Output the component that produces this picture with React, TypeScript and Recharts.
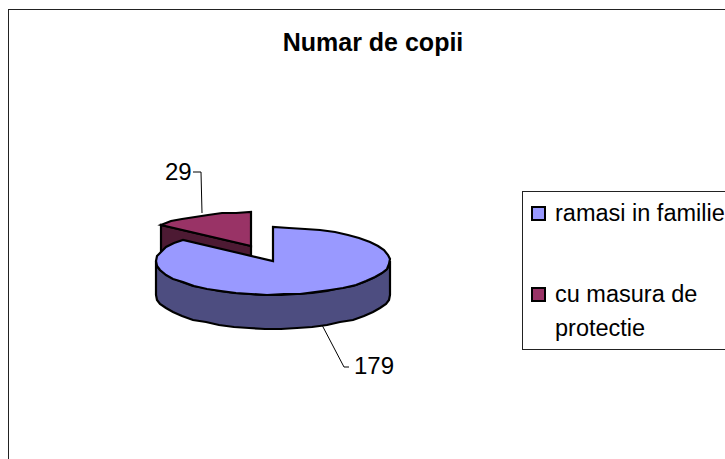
import React from "react";
import { PieChart, Pie, Legend } from "recharts";

const categories = ["cu masura de protectie", "ramasi in familie"];
const values = [29, 179];
const topColors = ["#993366", "#9999FF"];
const sideColors = ["#4D1A33", "#4D4D80"];
const tableData = categories.map((name, i) => ({ name, value: values[i], fill: topColors[i], side: sideColors[i] }));

const SQUASH = 0.287;
const DEPTH = 34;
const FONT = "'Liberation Sans', Arial, sans-serif";
const EXPLODE = [{ dx: -22, dy: -15 }, { dx: 0, dy: 0 }];

function arcPoints(cx: number, cy: number, r: number, a0: number, a1: number) {
  const n = Math.max(2, Math.ceil(Math.abs(a1 - a0) / 8));
  const pts: [number, number][] = [];
  for (let i = 0; i <= n; i++) {
    const a = ((a0 + ((a1 - a0) * i) / n) * Math.PI) / 180;
    pts.push([Math.round(cx + r * Math.cos(a)), Math.round(cy - SQUASH * r * Math.sin(a))]);
  }
  return pts;
}
const toPath = (pts: [number, number][]) => "M" + pts.map((p) => p[0] + "," + p[1]).join("L") + "Z";

function Slice3D(props: any) {
  const { cx, cy, outerRadius, startAngle, endAngle, index, fill, side, payload } = props;
  const off = EXPLODE[index] ?? { dx: 0, dy: 0 };
  const sideFill = side ?? payload?.side;
  const x = cx + off.dx;
  const y = cy + off.dy;
  const hi = Math.max(startAngle, endAngle);
  const lo = Math.min(startAngle, endAngle);
  const top = [[x, y] as [number, number], ...arcPoints(x, y, outerRadius, startAngle, endAngle)];
  const walls: string[] = [];
  // rim wall: only the front half of the ellipse shows
  const f0 = Math.max(lo, -180);
  const f1 = Math.min(hi, 0);
  if (f1 > f0) {
    const upper = arcPoints(x, y, outerRadius, f0, f1);
    const lower = upper.slice().reverse().map((p) => [p[0], p[1] + DEPTH] as [number, number]);
    walls.push(toPath([...upper, ...lower]));
  }
  // cut face on the slice that has been pulled out
  if (off.dx !== 0) {
    const edge = arcPoints(x, y, outerRadius, startAngle, startAngle)[0];
    walls.push(toPath([[x, y], edge, [edge[0], edge[1] + DEPTH], [x, y + DEPTH]]));
  }
  return (
    <g>
      {walls.map((d, i) => (
        <path key={i} d={d} fill={sideFill} stroke="#000" strokeWidth={2.2} strokeLinejoin="miter" />
      ))}
      <path d={toPath(top)} fill={fill} stroke="#000" strokeWidth={2.2} strokeLinejoin="miter" />
    </g>
  );
}

function SliceLabel(props: any) {
  const { cx, cy, index, value } = props;
  const spec =
    index === 0
      ? { tx: -108, ty: -81, pts: [[-80, -89], [-72, -89], [-71, -48]] }
      : { tx: 81, ty: 113, pts: [[49, 64], [71, 106], [76, 106]] };
  return (
    <g>
      <polyline
        points={spec.pts.map((p) => `${cx + p[0]},${cy + p[1]}`).join(" ")}
        fill="none"
        stroke="#000"
        strokeWidth={1}
      />
      <text x={cx + spec.tx} y={cy + spec.ty} textAnchor="start" fontFamily={FONT} fontSize={24} fill="#000">
        {value}
      </text>
    </g>
  );
}

function LegendBox(props: any) {
  const items = [...(props.payload ?? [])].reverse();
  const rowTops = [4, 85];
  return (
    <div style={{ position: "relative", width: 240, height: 159, boxSizing: "border-box", border: "1px solid #222", background: "#fff", fontFamily: FONT, fontSize: 23.5, color: "#000" }}>
      {items.map((it: any, i: number) => (
        <div key={it.value} style={{ position: "absolute", left: 32, top: rowTops[i], width: 172, lineHeight: "34px" }}>
          <span style={{ position: "absolute", left: -24, top: 10, width: 11, height: 11, background: it.color, border: "2px solid #000" }} />
          {it.value}
        </div>
      ))}
    </div>
  );
}

export default function App() {
  return (
    <div style={{ width: 725, height: 459, overflow: "hidden", position: "relative" }}>
      <style>{"body{margin:0}"}</style>
      <PieChart width={725} height={459} margin={{ top: 0, right: 0, bottom: 0, left: 0 }}>
        <rect x={8.5} y={9.5} width={800} height={600} fill="#fff" stroke="#222" strokeWidth={1} />
        <text x={373} y={51} textAnchor="middle" fontFamily={FONT} fontSize={25} fontWeight="bold" fill="#000">
          Numar de copii
        </text>
        <Pie
          data={tableData}
          dataKey="value"
          nameKey="name"
          cx={273}
          cy={261}
          innerRadius={0}
          outerRadius={117}
          startAngle={140.2}
          endAngle={-219.8}
          stroke="none"
          shape={Slice3D}
          label={SliceLabel}
          labelLine={false}
          isAnimationActive={false}
        />
        <Legend
          layout="vertical"
          content={LegendBox}
          wrapperStyle={{ position: "absolute", left: 522, top: 191, width: 240, height: 159 }}
        />
      </PieChart>
    </div>
  );
}
